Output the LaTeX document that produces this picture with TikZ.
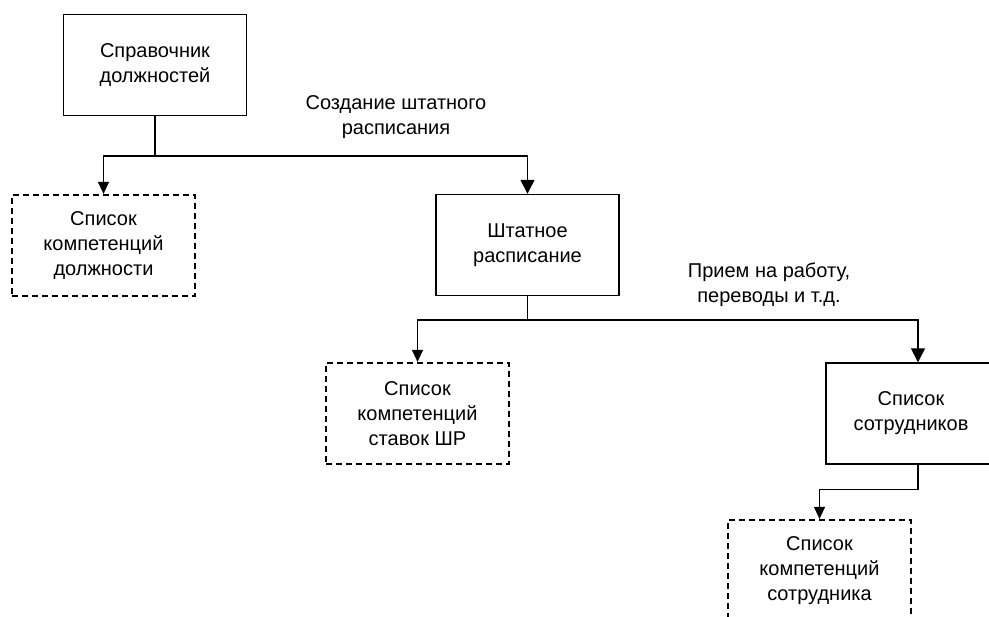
\documentclass[tikz,border=0pt]{standalone}
\usepackage{fontspec}
\setmainfont{Liberation Sans}
\usetikzlibrary{arrows.meta}

\tikzset{
  blok/.style={draw, line width=1.4pt, minimum width=183pt, minimum height=101pt,
    align=center, inner sep=0pt, font=\fontsize{20}{25}\selectfont},
  spisok/.style={blok, line width=2.2pt, dash pattern=on 6pt off 4pt},
  podpis/.style={align=center, inner sep=0pt, font=\fontsize{20}{25}\selectfont},
  liniya/.style={line width=1.4pt},
  strelka/.style={liniya, -{Triangle[width=11pt,length=12pt]}},
  strelka2/.style={liniya, -{Triangle[width=14pt,length=14pt]}},
}

\begin{document}
\begin{tikzpicture}[x=1pt,y=-1pt]
	\useasboundingbox (0,0) rectangle (989,617);
	\clip (0,0) rectangle (989,617);

	\node[blok] (sprav) at (155,65) {Справочник\\должностей};
	\node[spisok] (kompdol) at (103.5,245.5) {Список\\компетенций\\должности};
	\node[blok] (shtat) at (527.5,245) {Штатное\\расписание};
	\node[spisok] (kompshr) at (417.5,413.5) {Список\\компетенций\\ставок ШР};
	\node[blok, minimum width=170pt] (sotr) at (911,413.5) {Список\\сотрудников};
	\node[spisok] (kompsotr) at (819.5,570.5) {Список\\компетенций\\сотрудника};

	\node[podpis] (sozd) at (396,117) {Создание штатного\\расписания};
	\node[podpis] (priem) at (769,285) {Прием на работу,\\переводы и т.д.};

	% ветвления
	\draw[liniya] (sprav.south) -- ++(0,40) coordinate (razv1);
	\draw[strelka] (razv1) -| (kompdol.north);
	\draw[strelka2] (razv1) -| (shtat.north);

	\draw[liniya] (shtat.south) -- ++(0,24) coordinate (razv2);
	\draw[strelka] (razv2) -| (kompshr.north);
	\draw[strelka2] (razv2) -| ([xshift=7pt]sotr.north);

	\draw[liniya] ([xshift=7pt]sotr.south) -- ++(0,25) coordinate (razv3);
	\draw[strelka] (razv3) -| (kompsotr.north);
\end{tikzpicture}
\end{document}
